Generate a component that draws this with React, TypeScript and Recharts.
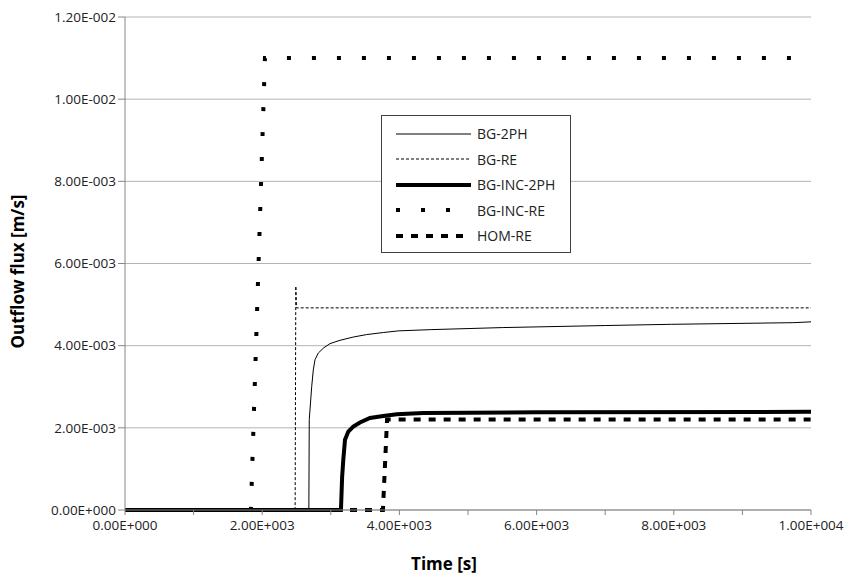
import React from 'react';
import { LineChart, Line, XAxis, YAxis, CartesianGrid } from 'recharts';

// Series data (time [s] / outflow flux [m/s])
const bg2phTime = [0, 2680, 2686, 2722, 2745, 2770, 2818, 2891, 2988, 3134, 3328, 3523, 3765, 3984, 4450, 5500, 7000, 7970, 9750, 10000];
const bg2phFlux = [0, 0, 0.0022, 0.00301, 0.00341, 0.00366, 0.00382, 0.00394, 0.00405, 0.00413, 0.00421, 0.00427, 0.00432, 0.00436, 0.00439, 0.00444, 0.00449, 0.00452, 0.00456, 0.00458];

const bgReTime = [0, 2480, 2490, 2500, 10000];
const bgReFlux = [0, 0, 0.00545, 0.00492, 0.00492];

const bgInc2phTime = [0, 3148, 3165, 3182, 3207, 3255, 3328, 3425, 3571, 3765, 3961, 4348, 6000, 10000];
const bgInc2phFlux = [0, 0, 0.0008, 0.00122, 0.00171, 0.00191, 0.00203, 0.00213, 0.00224, 0.00229, 0.00233, 0.00236, 0.00238, 0.00239];

const bgIncReTime = [0, 1835, 2040, 10000];
const bgIncReFlux = [0, 0, 0.011, 0.011];

const homReTime = [0, 3760, 3820, 10000];
const homReFlux = [0, 0, 0.0022, 0.0022];

const xTicks = [0, 1000, 2000, 3000, 4000, 5000, 6000, 7000, 8000, 9000, 10000];
const xTickLabels = ['0.00E+000', '', '2.00E+003', '', '4.00E+003', '', '6.00E+003', '', '8.00E+003', '', '1.00E+004'];
const yTicks = [0, 0.002, 0.004, 0.006, 0.008, 0.01, 0.012];
const yTickLabels = ['0.00E+000', '2.00E-003', '4.00E-003', '6.00E-003', '8.00E-003', '1.00E-002', '1.20E-002'];

const zip = (t: number[], v: number[]) => t.map((x, i) => ({ t: x, v: v[i] }));

const series = [
  { name: 'BG-2PH', data: zip(bg2phTime, bg2phFlux), width: 1, dash: undefined },
  { name: 'BG-RE', data: zip(bgReTime, bgReFlux), width: 1, dash: '3 2' },
  { name: 'BG-INC-2PH', data: zip(bgInc2phTime, bgInc2phFlux), width: 4, dash: undefined },
  { name: 'BG-INC-RE', data: zip(bgIncReTime, bgIncReFlux), width: 4, dash: '4 21' },
  { name: 'HOM-RE', data: zip(homReTime, homReFlux), width: 4, dash: '7 8' },
];

const font = '"Open Sans", sans-serif';
const textColor = '#222';

function ChartLegend() {
  return (
    <div
      style={{
        position: 'absolute',
        left: 381,
        top: 115,
        width: 190,
        height: 138,
        border: '1px solid #404040',
        background: '#fff',
        boxSizing: 'border-box',
        paddingTop: 5,
      }}
    >
      {series.map((s) => (
        <div key={s.name} style={{ height: 25.5, display: 'flex', alignItems: 'center' }}>
          <svg width={90} height={10} style={{ display: 'block' }}>
            <line
              x1={14}
              y1={5}
              x2={89}
              y2={5}
              stroke="#000"
              strokeWidth={s.width}
              strokeDasharray={s.dash}
            />
          </svg>
          <span style={{ fontFamily: font, fontSize: 14, color: textColor, marginLeft: 5 }}>{s.name}</span>
        </div>
      ))}
    </div>
  );
}

export default function App() {
  return (
    <div style={{ position: 'fixed', left: 0, top: 0, width: 848, height: 576, background: '#fff' }}>
      <LineChart width={848} height={576} margin={{ top: 17, right: 37, bottom: 0, left: 0 }}>
        <CartesianGrid horizontal vertical={false} stroke="#b3b3b3" strokeWidth={1} />
        <XAxis
          type="number"
          dataKey="t"
          domain={[0, 10000]}
          ticks={xTicks}
          tickFormatter={(v: number) => xTickLabels[xTicks.indexOf(v)] ?? ''}
          height={66}
          stroke="#868686"
          tickSize={5}
          tickMargin={5}
          interval={0}
          tick={{ fill: textColor, fontSize: 13.5, fontFamily: font }}
          allowDataOverflow
          label={{
            value: 'Time [s]',
            position: 'insideBottom',
            offset: 6,
            dx: -24,
            style: { fontFamily: font, fontSize: 17, fontWeight: 700, fill: '#000' },
          }}
        />
        <YAxis
          type="number"
          domain={[0, 0.012]}
          ticks={yTicks}
          tickFormatter={(v: number) => yTickLabels[yTicks.indexOf(v)] ?? ''}
          width={125}
          stroke="#868686"
          tickSize={7}
          tickMargin={2}
          interval={0}
          tick={{ fill: textColor, fontSize: 13.5, fontFamily: font }}
          label={{
            value: 'Outflow flux [m/s]',
            angle: -90,
            position: 'insideLeft',
            offset: 18,
            dy: 8,
            style: { textAnchor: 'middle', fontFamily: font, fontSize: 17, fontWeight: 700, fill: '#000' },
          }}
        />
        {series.map((s) => (
          <Line
            key={s.name}
            name={s.name}
            data={s.data}
            dataKey="v"
            type="linear"
            stroke="#000"
            strokeWidth={s.width}
            strokeDasharray={s.dash}
            dot={false}
            activeDot={false}
            isAnimationActive={false}
          />
        ))}
      </LineChart>
      <ChartLegend />
    </div>
  );
}
